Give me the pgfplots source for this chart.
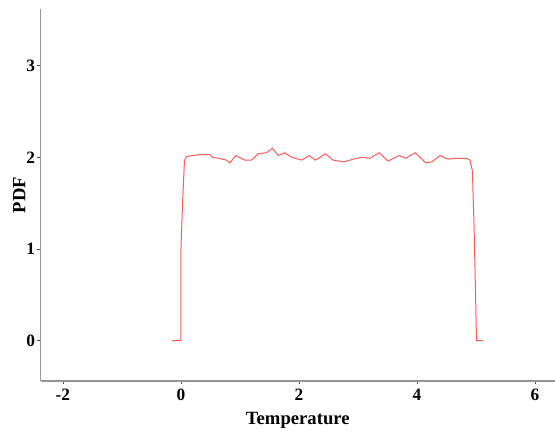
\documentclass[border=0pt]{standalone}
\usepackage{fontspec}
\setmainfont{Liberation Serif}
\usepackage{pgfplots}
\pgfplotsset{compat=1.18}
\definecolor{pdfred}{RGB}{255,90,90}
\definecolor{axgray}{RGB}{150,150,150}

\begin{document}
\begin{tikzpicture}
\begin{axis}[
  scale only axis,
  width=386pt,
  height=279pt,
  xmin=-2.38, xmax=6.34,
  ymin=-0.44, ymax=3.62,
  xtick={-2,0,2,4,6},
  ytick={0,1,2,3},
  axis x line*=bottom,
  axis y line*=left,
  axis line style={axgray,line width=1.1pt,-},
  tick style={black!70,line width=0.6pt},
  tick align=outside,
  major tick length=2.5pt,
  tick label style={font=\fontsize{13}{15}\selectfont\bfseries},
  yticklabel style={xshift=2pt},
  /pgf/number format/assume math mode=true,
  label style={font=\fontsize{14}{16}\selectfont\bfseries},
  xlabel={Temperature},
  ylabel={PDF},
  xlabel style={yshift=-2pt},
  ylabel style={yshift=-6pt},
  clip=false,
]
\addplot[pdfred,line width=0.75pt] coordinates {
  (-0.15,0) (0.0,0) (0.0,1.0) (0.03,1.54) (0.06,1.97) (0.10,2.01)
  (0.20,2.02) (0.31,2.03) (0.49,2.03) (0.54,2.0) (0.65,1.99) (0.77,1.97)
  (0.83,1.94) (0.93,2.02) (1.08,1.97) (1.2,1.97) (1.31,2.04) (1.45,2.05)
  (1.55,2.10) (1.65,2.02) (1.76,2.05) (1.88,2.0) (2.05,1.97) (2.17,2.02)
  (2.28,1.97) (2.45,2.04) (2.58,1.97) (2.75,1.95) (2.92,1.98) (3.06,2.0)
  (3.2,1.99) (3.36,2.05) (3.51,1.96) (3.70,2.02) (3.81,1.99) (3.97,2.05)
  (4.15,1.94) (4.25,1.95) (4.39,2.02) (4.53,1.98) (4.64,1.99) (4.84,1.99)
  (4.90,1.97) (4.94,1.85) (4.97,1.2) (5.0,0.3) (5.01,0) (5.12,0)
};
\coordinate (sw) at (rel axis cs:0,0);
\coordinate (ne) at (rel axis cs:1,1);
\end{axis}
\pgfresetboundingbox
\useasboundingbox ([shift={(-30.4pt,-39.75pt)}]sw) rectangle ([shift={(0pt,6.75pt)}]ne);
\end{tikzpicture}
\end{document}
